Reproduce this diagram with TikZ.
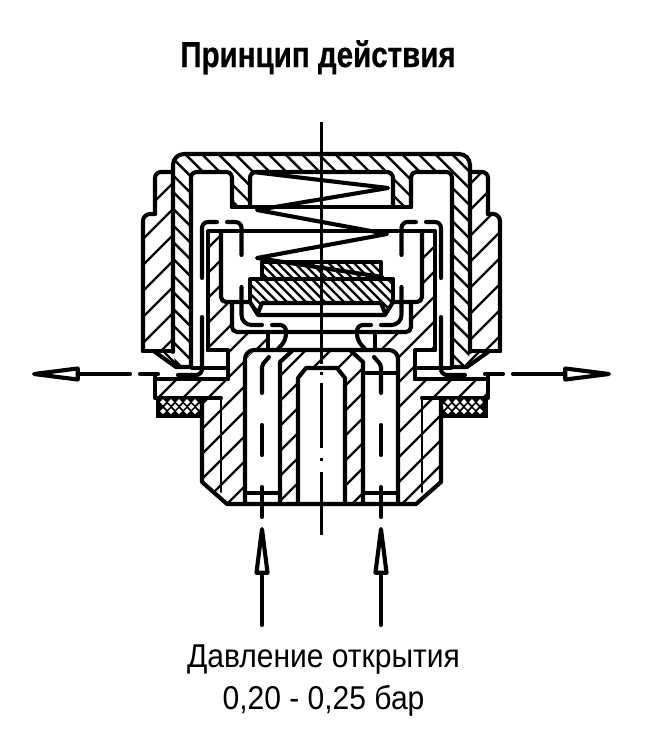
\documentclass[tikz,border=0pt]{standalone}
\usepackage{fontspec}
\setmainfont{Liberation Sans}
\newfontfamily\titlefont[FakeStretch=0.82,BoldFeatures={FakeBold=0.6}]{Liberation Sans}
\newfontfamily\labelfont[FakeStretch=0.91]{Liberation Sans}
\usepackage{tikz}
\usetikzlibrary{arrows.meta}
\newcommand{\hatchup}[3]{%
  \begin{scope}
    \clip #3;
    \foreach \k [evaluate=\k as \c using #2+\k*#1] in {0,...,60}
      \draw [hatchline] (\c-100,100) -- (\c-600,600);
  \end{scope}}
\newcommand{\hatchdown}[3]{%
  \begin{scope}
    \clip #3;
    \foreach \k [evaluate=\k as \c using #2+\k*#1] in {0,...,60}
      \draw [hatchline] (\c+100,100) -- (\c+600,600);
  \end{scope}}
\newcommand{\halfvalve}{%
  % ring
  \draw [rounded corners=6pt] (173,172) -- (155,172) -- (155,214);
  \draw [rounded corners=7pt] (155,214) -- (143,214) -- (143,351);
  \draw (143,351) -- (173,351);
  % cap
  \draw [rounded corners=11pt] (173,352) -- (173,154) -- (321.5,154);
  \draw [rounded corners=5pt] (191,367) -- (191,172) -- (232,172) -- (232,207);
  \draw (232,207) -- (321.5,207);
  \draw [rounded corners=6pt] (250,207) -- (250,172) -- (321.5,172);
  \draw (155,352) -- (176,367) -- (191,367);
  \draw [hatchline] (163,351) -- (177,365);
  % inner cup
  \draw (208,350) -- (208,231) -- (321.5,231);
  \draw [rounded corners=5pt] (221,231) -- (221,302) -- (250,302);
  \draw (208,350) -- (228,350) -- (228,379);
  \draw [rounded corners=5pt] (232,302) -- (232,332) -- (321.5,332);
  \draw (268,332) -- (268,350);
  % flange and seal
  \draw (155,375) -- (155,398) -- (221,398);
  \draw (155,379) -- (228,379);
  \draw (192,368) -- (228,368);
  \fill (155.5,398) rectangle (204,418);
  \foreach \k in {0,...,4} {
    \fill [white] (163+8*\k,399.2) -- ++(2.9,2.9) -- ++(-2.9,2.9) -- ++(-2.9,-2.9) -- cycle;
    \fill [white] (167.2+8*\k,403.8) -- ++(2.9,2.9) -- ++(-2.9,2.9) -- ++(-2.9,-2.9) -- cycle;
    \fill [white] (163+8*\k,408.4) -- ++(2.9,2.9) -- ++(-2.9,2.9) -- ++(-2.9,-2.9) -- cycle;
  }
  % body
  \draw (202,398) -- (202,482) -- (227,504) -- (321.5,504);
  \draw [line width=2.8pt] (221,398) -- (221,492);
  \draw [rounded corners=9pt] (245,504) -- (245,350) -- (321.5,350);
  \draw (292,351) -- (280,362) -- (280,504);
  \draw (245,493) -- (280,493);
  \draw (298,504) -- (298,378) -- (306,368) -- (321.5,368);
  % plates
  \draw (250,302) -- (250,279) -- (321.5,279);
  \draw (250,302) -- (258,315) -- (321.5,315);
  \draw (258,313) -- (262,303) -- (321.5,303);
  \draw (262,279) -- (262,262) -- (321.5,262);
  % dashes
  \draw [rounded corners=6pt] (202,278) -- (202,222) -- (217,222);
  \draw [rounded corners=6pt] (227,222) -- (241.5,222) -- (241.5,255);
  \draw [rounded corners=10pt] (241.5,287) -- (241.5,325) -- (262,325);
  \draw [rounded corners=6pt] (272,325) -- (286,325) -- (286,340) -- (278,349);
  \draw [rounded corners=6pt] (202,317) -- (202,375) -- (178,375);
  \draw [rounded corners=2pt] (269,357) -- (262,365) -- (262,393);
  \draw (262,425) -- (262,455);
  \draw (262,487) -- (262,517);
  \draw (140,374) -- (158,374);
}
\begin{document}
\begin{tikzpicture}[x=1pt, y=-1pt, line cap=round, line join=round, line width=4.1pt,
    hatchline/.style={line width=2.4pt, line cap=butt},
    centerline/.style={line width=2.2pt, line cap=butt},
    flowarrow/.style={-{Triangle[open, round, length=64pt, width=14.5pt]}},
    titlelabel/.style={anchor=base, inner sep=0pt, font=\titlefont\bfseries\fontsize{36}{36}\selectfont},
    valuelabel/.style={anchor=base, inner sep=0pt, font=\labelfont\fontsize{33}{33}\selectfont}]
  \useasboundingbox (0,0) rectangle (645,750);
  % hatching
  \hatchup{26}{330}{[rounded corners=5pt] (173,172) -- (155,172) -- (155,214) -- (143,214) -- (143,351) -- (173,351) -- cycle}
  \hatchup{26}{342}{[rounded corners=5pt] (470,172) -- (488,172) -- (488,214) -- (500,214) -- (500,351) -- (470,351) -- cycle}
  \hatchdown{16.67}{-469}{[rounded corners=5pt] (173,352) -- (173,154) -- (470,154) -- (470,352) -- (467,367) -- (452,367) -- (452,172) -- (412,172) -- (412,207) -- (393,207) -- (393,172) -- (250,172) -- (250,207) -- (232,207) -- (232,172) -- (191,172) -- (191,367) -- (176,367) -- cycle}
  \hatchup{25}{306}{(208,231) -- (221,231) -- (221,302) -- (232,302) -- (232,332) -- (268,332) -- (268,350) -- (255,350) -- (245,360) -- (245,504) -- (227,504) -- (202,482) -- (202,398) -- (155,398) -- (155,379) -- (228,379) -- (228,350) -- (208,350) -- cycle}
  \hatchup{25}{306}{(435,231) -- (422,231) -- (422,302) -- (411,302) -- (411,332) -- (375,332) -- (375,350) -- (388,350) -- (398,360) -- (398,504) -- (416,504) -- (441,482) -- (441,398) -- (488,398) -- (488,379) -- (415,379) -- (415,350) -- (435,350) -- cycle}
  \hatchup{25}{306}{(292,350) -- (280,362) -- (280,504) -- (298,504) -- (298,378) -- (306,368) -- (337,368) -- (345,378) -- (345,504) -- (363,504) -- (363,362) -- (351,350) -- cycle}
  \hatchdown{9.5}{-300}{(250,302) -- (250,279) -- (393,279) -- (393,302) -- (385,315) -- (380,303) -- (262,303) -- (258,315) -- cycle}
  \hatchdown{8.5}{-300}{(262,279) -- (262,262) -- (381,262) -- (381,279) -- cycle}
  % outlines
  \halfvalve
  \begin{scope}[xshift=643pt, xscale=-1]
    \halfvalve
  \end{scope}
  \draw (365,373) -- (398,373);
  % spring
  \draw (253,172) -- (388,188) -- (257,210) -- (387,234) -- (257,258) -- (382,277);
  % center line
  \draw [centerline] (321.5,122) -- (321.5,364);
  \draw [centerline] (321.5,372) -- (321.5,375);
  \draw [centerline] (321.5,383) -- (321.5,448);
  \draw [centerline] (321.5,458) -- (321.5,461);
  \draw [centerline] (321.5,472) -- (321.5,535);
  % arrows
  \coordinate (leftstem) at (130,374);
  \coordinate (lefttip) at (32,374);
  \coordinate (rightstem) at (513,374);
  \coordinate (righttip) at (611,374);
  \coordinate (inletastem) at (262,625);
  \coordinate (inletatip) at (262,527);
  \coordinate (inletbstem) at (381,625);
  \coordinate (inletbtip) at (381,527);
  \draw [flowarrow] (leftstem) -- (lefttip);
  \draw [flowarrow] (rightstem) -- (righttip);
  \draw [flowarrow] (inletastem) -- (inletatip);
  \draw [flowarrow] (inletbstem) -- (inletbtip);
  % labels
  \node [titlelabel] (title) at (318,67) {Принцип действия};
  \node [valuelabel] (pressurename) at (323.5,667) {Давление открытия};
  \node [valuelabel] (pressurevalue) at (323.5,709) {0,20 - 0,25 бар};
\end{tikzpicture}
\end{document}
